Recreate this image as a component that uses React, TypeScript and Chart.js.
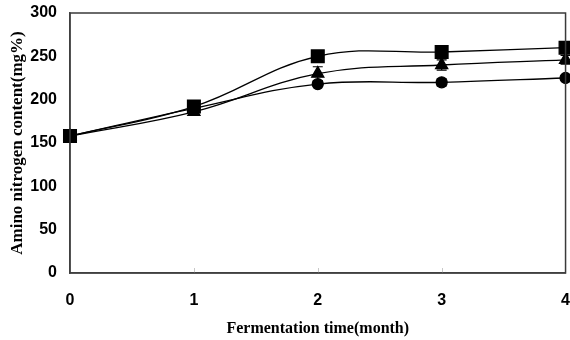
import React, { useEffect, useRef } from "react";
import { Chart, registerables } from "chart.js";

Chart.register(...registerables);

const months = [0, 1, 2, 3, 4];
const squareValues = [158, 192, 250, 255, 260];
const triangleValues = [158, 186, 230, 240, 246];
const circleValues = [158, 190, 218, 220, 225];
const squareErr = [0, 3, 3, 3, 3];
const triangleErr = [0, 3, 8, 6, 5];
const circleErr = [0, 3, 3, 4, 3];
const yTicks = [0, 50, 100, 150, 200, 250, 300];
const xTicks = [0, 1, 2, 3, 4];

const toPoints = (vals: number[]) => months.map((m, i) => ({ x: m, y: vals[i] }));

const framePlugin = {
  id: "frame",
  beforeDatasetsDraw(chart: any) {
    const { ctx, chartArea, scales } = chart;
    ctx.save();
    ctx.strokeStyle = "#c8c8c8";
    ctx.lineWidth = 1;
    xTicks.forEach((v) => {
      if (v === 0 || v === 4) return;
      const px = Math.round(scales.x.getPixelForValue(v)) + 0.5;
      ctx.beginPath();
      ctx.moveTo(px, chartArea.bottom);
      ctx.lineTo(px, chartArea.bottom - 5);
      ctx.stroke();
    });
    const sets = [
      { vals: circleValues, err: circleErr },
      { vals: triangleValues, err: triangleErr },
      { vals: squareValues, err: squareErr },
    ];
    ctx.strokeStyle = "#000";
    ctx.lineWidth = 1.2;
    sets.forEach((s) => {
      s.vals.forEach((v, i) => {
        if (!s.err[i]) return;
        const px = scales.x.getPixelForValue(months[i]);
        const y1 = scales.y.getPixelForValue(v + s.err[i]);
        const y2 = scales.y.getPixelForValue(v - s.err[i]);
        ctx.beginPath();
        ctx.moveTo(px, y1);
        ctx.lineTo(px, y2);
        ctx.moveTo(px - 5, y1);
        ctx.lineTo(px + 5, y1);
        ctx.moveTo(px - 5, y2);
        ctx.lineTo(px + 5, y2);
        ctx.stroke();
      });
    });
    ctx.restore();
  },
  afterDraw(chart: any) {
    const { ctx, chartArea } = chart;
    ctx.save();
    ctx.strokeStyle = "#3a3a3a";
    ctx.lineWidth = 1.5;
    ctx.strokeRect(chartArea.left, chartArea.top, chartArea.right - chartArea.left, chartArea.bottom - chartArea.top);
    ctx.restore();
  },
};

export default function App() {
  const ref = useRef<HTMLCanvasElement | null>(null);
  useEffect(() => {
    document.body.style.margin = "0";
    const common = {
      borderColor: "#000",
      backgroundColor: "#000",
      pointBackgroundColor: "#000",
      pointBorderColor: "#000",
      borderWidth: 1.3,
      tension: 0.4,
      fill: false,
      clip: false,
    };
    const chart = new Chart(ref.current as HTMLCanvasElement, {
      type: "line",
      data: {
        datasets: [
          { ...common, label: "circle", data: toPoints(circleValues), pointStyle: "circle", pointRadius: 5.5 },
          { ...common, label: "triangle", data: toPoints(triangleValues), pointStyle: "triangle", pointRadius: 7 },
          { ...common, label: "square", data: toPoints(squareValues), pointStyle: "rect", pointRadius: 9 },
        ],
      },
      options: {
        animation: false,
        responsive: false,
        maintainAspectRatio: false,
        layout: { autoPadding: false, padding: { left: 0, right: 0, top: 13, bottom: 2 } },
        plugins: { legend: { display: false }, tooltip: { enabled: false } },
        scales: {
          x: {
            type: "linear",
            min: 0,
            max: 4,
            afterBuildTicks: (s: any) => {
              s.ticks = xTicks.map((v) => ({ value: v }));
            },
            afterFit: (s: any) => {
              s.height = 65;
            },
            grid: { display: true, drawOnChartArea: false, drawTicks: true, tickLength: 18, tickColor: "rgba(0,0,0,0)" },
            border: { display: true, color: "#555", width: 1.5 },
            ticks: {
              color: "#000",
              padding: 0,
              font: { family: "Liberation Sans, Arial", size: 16, weight: "bold" },
            },
            title: {
              display: true,
              text: "Fermentation time(month)",
              color: "#000",
              padding: { top: 0, bottom: 0 },
              font: { family: "Liberation Serif, Times New Roman", size: 16, weight: "bold" },
            },
          },
          y: {
            min: 0,
            max: 300,
            afterBuildTicks: (s: any) => {
              s.ticks = yTicks.map((v) => ({ value: v }));
            },
            afterFit: (s: any) => {
              s.width = 70;
            },
            grid: { display: true, drawOnChartArea: false, drawTicks: true, tickLength: 13, tickColor: "rgba(0,0,0,0)" },
            border: { display: true, color: "#555", width: 1.5 },
            ticks: {
              color: "#000",
              padding: 0,
              font: { family: "Liberation Sans, Arial", size: 16, weight: "bold" },
            },
            title: {
              display: true,
              text: "Amino nitrogen content(mg%)",
              color: "#000",
              padding: { top: 7, bottom: 0 },
              font: { family: "Liberation Serif, Times New Roman", size: 17, weight: "bold" },
            },
          },
        },
      },
      plugins: [framePlugin],
    } as any);
    return () => chart.destroy();
  }, []);
  return <canvas ref={ref} width={570} height={340} style={{ display: "block" }} />;
}
